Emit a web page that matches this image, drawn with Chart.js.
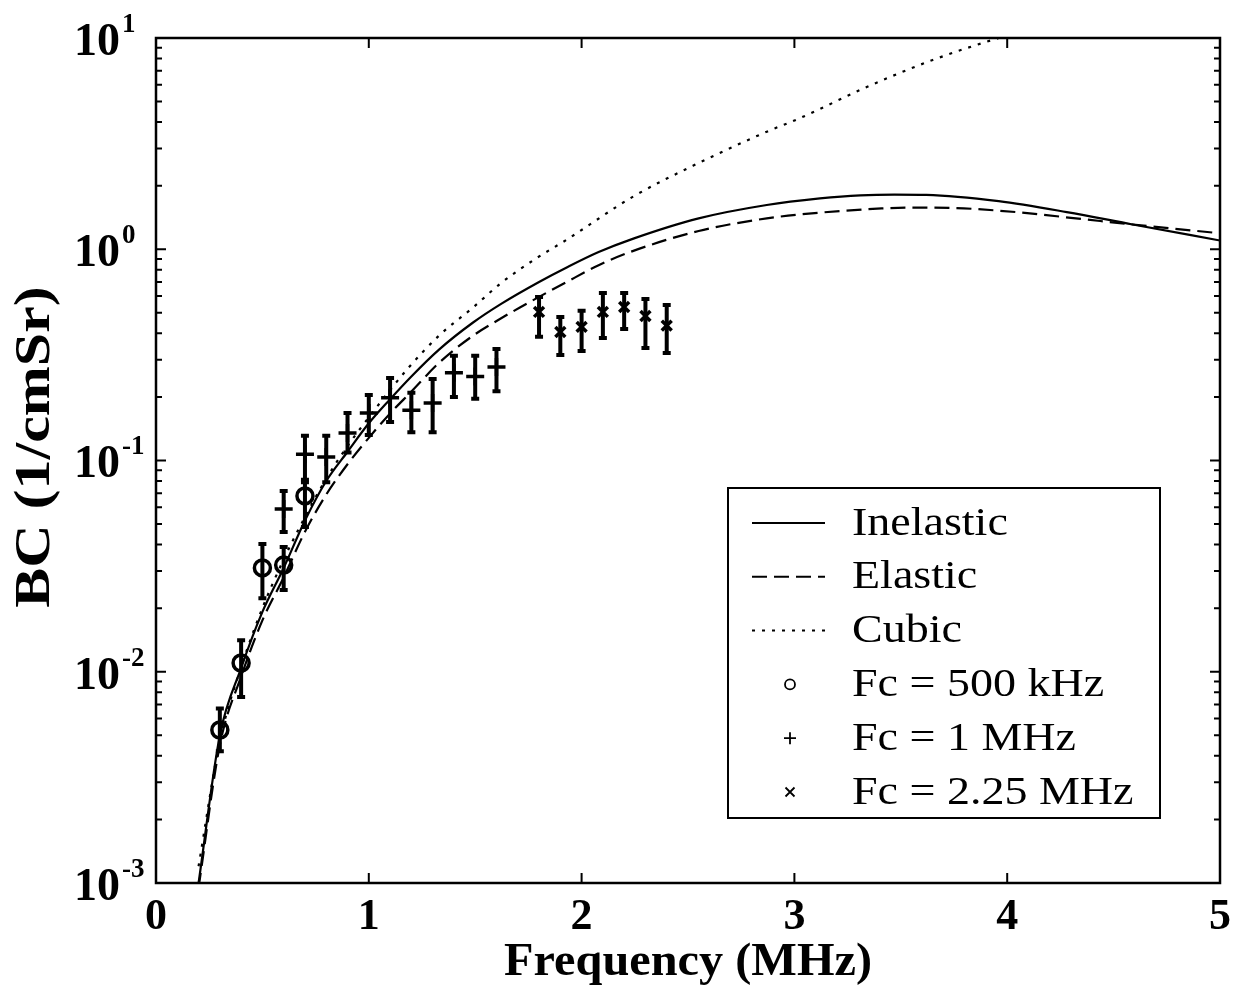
<!DOCTYPE html>
<html><head><meta charset="utf-8">
<script src="https://cdn.jsdelivr.net/npm/chart.js@4.4.1/dist/chart.umd.min.js"></script>
<style>html,body{margin:0;padding:0;background:#fff;}</style>
</head><body>
<canvas id="c" width="1252" height="994"></canvas>
<script>
// ---- data ----
const inelasticF  = [0.2,0.3,0.4,0.5,0.6,0.7,0.8,0.9,1.0,1.1,1.2,1.33,1.49,1.62,1.8,1.93,2.08,2.24,2.55,2.87,3.12,3.31,3.47,3.62,3.96,4.28,4.59,5.0];
const inelasticBC = [0.001,0.005,0.0104,0.0192,0.031,0.052,0.08,0.11,0.15,0.195,0.25,0.335,0.45,0.55,0.70,0.82,0.97,1.12,1.40,1.62,1.74,1.80,1.815,1.81,1.69,1.50,1.31,1.10];

const elasticF  = [0.2,0.3,0.4,0.5,0.6,0.7,0.8,0.9,1.0,1.1,1.2,1.33,1.49,1.62,1.71,1.93,2.08,2.24,2.55,2.87,3.12,3.41,3.57,3.73,4.04,4.35,4.59,5.0];
const elasticBC = [0.00095,0.0045,0.0095,0.0175,0.028,0.046,0.069,0.096,0.128,0.167,0.212,0.29,0.39,0.47,0.53,0.70,0.84,0.98,1.22,1.40,1.49,1.56,1.575,1.57,1.50,1.39,1.31,1.19];

const cubicF  = [0.2,0.3,0.4,0.5,0.6,0.7,0.8,0.9,1.0,1.18,1.33,1.49,1.62,1.79,1.93,2.24,2.55,2.87,3.02,3.34,3.65,3.96,4.05];
const cubicBC = [0.0012,0.0047,0.0105,0.02,0.034,0.054,0.082,0.117,0.16,0.27,0.39,0.53,0.69,0.91,1.11,1.77,2.56,3.6,4.15,5.86,7.87,10,10.6];

const f500  = [0.3,0.4,0.5,0.6,0.7];
const bc500 = [0.0053,0.011,0.031,0.032,0.068];
const lo500 = [0.0042,0.0076,0.0223,0.0244,0.0484];
const hi500 = [0.0067,0.0141,0.0403,0.039,0.081];

const f1M  = [0.6,0.7,0.8,0.9,1.0,1.1,1.2,1.3,1.4,1.5,1.6];
const bc1M = [0.059,0.107,0.104,0.135,0.168,0.198,0.173,0.187,0.26,0.25,0.277];
const lo1M = [0.0459,0.079,0.079,0.109,0.132,0.152,0.136,0.136,0.2,0.196,0.213];
const hi1M = [0.0718,0.131,0.131,0.168,0.204,0.246,0.209,0.243,0.313,0.313,0.337];

const f225  = [1.8,1.9,2.0,2.1,2.2,2.3,2.4];
const bc225 = [0.505,0.406,0.429,0.505,0.533,0.483,0.435];
const lo225 = [0.385,0.316,0.33,0.38,0.419,0.341,0.323];
const hi225 = [0.594,0.478,0.511,0.621,0.621,0.581,0.545];

const xTicks = [0,1,2,3,4,5];
const yDecades = [-3,-2,-1,0,1];
const legendLabels = ['Inelastic','Elastic','Cubic','Fc = 500 kHz','Fc = 1 MHz','Fc = 2.25 MHz'];
const xTitle = 'Frequency (MHz)';
const yTitle = 'BC (1/cmSr)';

// ---- helpers ----
const pts = (xs, ys) => xs.map((x,i)=>({x:x,y:ys[i]}));
const SERIF = '"Liberation Serif","Times New Roman",serif';

const errorSets = [
  {f:f500, lo:lo500, hi:hi500},
  {f:f1M, lo:lo1M, hi:hi1M},
  {f:f225, lo:lo225, hi:hi225}
];

const framePlugin = {
  id: 'frame',
  beforeDatasetsDraw(chart) {
    const {ctx, scales:{x, y}} = chart;
    ctx.save();
    ctx.strokeStyle = '#000';
    ctx.lineWidth = 4;
    errorSets.forEach(s => {
      s.f.forEach((f,i) => {
        const px = x.getPixelForValue(f);
        const yt = y.getPixelForValue(s.hi[i]);
        const yb = y.getPixelForValue(s.lo[i]);
        ctx.beginPath();
        ctx.moveTo(px, yt); ctx.lineTo(px, yb);
        ctx.moveTo(px-4, yt); ctx.lineTo(px+4, yt);
        ctx.moveTo(px-4, yb); ctx.lineTo(px+4, yb);
        ctx.stroke();
      });
    });
    ctx.restore();
  },
  afterDraw(chart) {
    const {ctx, chartArea:a, scales:{x, y}} = chart;
    ctx.save();
    ctx.strokeStyle = '#000';
    ctx.fillStyle = '#000';
    // box
    ctx.lineWidth = 2.5;
    ctx.strokeRect(a.left, a.top, a.right-a.left, a.bottom-a.top);
    // x ticks (inside, bottom and top)
    ctx.lineWidth = 2;
    xTicks.forEach(v => {
      const px = x.getPixelForValue(v);
      ctx.beginPath();
      ctx.moveTo(px, a.bottom); ctx.lineTo(px, a.bottom-10);
      ctx.moveTo(px, a.top); ctx.lineTo(px, a.top+10);
      ctx.stroke();
    });
    // y ticks: major + minor, left and right
    yDecades.forEach(d => {
      for (let m=1; m<=9; m++) {
        if (d===1 && m>1) break;
        const py = y.getPixelForValue(m*Math.pow(10,d));
        const len = m===1 ? 10 : 6;
        ctx.beginPath();
        ctx.moveTo(a.left, py); ctx.lineTo(a.left+len, py);
        ctx.moveTo(a.right, py); ctx.lineTo(a.right-len, py);
        ctx.stroke();
      }
    });
    // y tick labels 10^n
    yDecades.forEach(d => {
      const py = y.getPixelForValue(Math.pow(10,d));
      ctx.textAlign = 'left';
      ctx.textBaseline = 'middle';
      ctx.font = 'bold 46px ' + SERIF;
      ctx.fillText('10', 74, py+5);
      const w = ctx.measureText('10').width;
      ctx.font = 'bold 27px ' + SERIF;
      ctx.fillText(String(d), 74+w+2, py-13);
    });
    // axis titles
    ctx.save();
    ctx.translate((a.left+a.right)/2, 963);
    ctx.scale(1.05,1);
    ctx.font = 'bold 46px ' + SERIF;
    ctx.textAlign = 'center'; ctx.textBaseline = 'middle';
    ctx.fillText(xTitle, 0, 0);
    ctx.restore();
    ctx.save();
    ctx.translate(36, 447);
    ctx.rotate(-Math.PI/2);
    ctx.scale(1.2,1);
    ctx.font = 'bold 50px ' + SERIF;
    ctx.textAlign = 'center'; ctx.textBaseline = 'middle';
    ctx.fillText(yTitle, 0, 0);
    ctx.restore();
    // legend
    const L = 728, T = 488, W = 432, H = 330;
    ctx.fillStyle = '#fff';
    ctx.fillRect(L, T, W, H);
    ctx.fillStyle = '#000';
    ctx.lineWidth = 2;
    ctx.strokeRect(L, T, W, H);
    const step = 53.8, y0 = 523;
    const ds = chart.data.datasets;
    legendLabels.forEach((lab, i) => {
      const ry = y0 + i*step;
      const d = ds[i];
      if (i < 3) {
        ctx.save();
        ctx.lineWidth = 2;
        ctx.setLineDash(d.borderDash || []);
        ctx.beginPath(); ctx.moveTo(752, ry); ctx.lineTo(825, ry); ctx.stroke();
        ctx.restore();
      } else {
        ctx.save();
        ctx.lineWidth = 1.8;
        const cx = 790;
        ctx.beginPath();
        if (i === 3) { ctx.arc(cx, ry, 5, 0, Math.PI*2); }
        else if (i === 4) { ctx.moveTo(cx-6, ry); ctx.lineTo(cx+6, ry); ctx.moveTo(cx, ry-6); ctx.lineTo(cx, ry+6); }
        else { ctx.moveTo(cx-4.5, ry-4.5); ctx.lineTo(cx+4.5, ry+4.5); ctx.moveTo(cx-4.5, ry+4.5); ctx.lineTo(cx+4.5, ry-4.5); }
        ctx.stroke();
        ctx.restore();
      }
      ctx.save();
      ctx.translate(852, ry+1);
      ctx.scale(1.15, 1);
      ctx.font = '40px ' + SERIF;
      ctx.textAlign = 'left'; ctx.textBaseline = 'middle';
      ctx.fillText(lab, 0, 0);
      ctx.restore();
    });
    ctx.restore();
  }
};

const lineDs = (label, xs, ys, dash) => ({
  label, data: pts(xs, ys), showLine: true, pointRadius: 0,
  borderColor: '#000', backgroundColor: '#000', borderWidth: 2.2,
  borderDash: dash, cubicInterpolationMode: 'monotone'
});
const markDs = (label, xs, ys, style, r) => ({
  label, data: pts(xs, ys), showLine: false, pointStyle: style,
  pointRadius: r, pointBorderWidth: 3.5, borderColor: '#000',
  backgroundColor: 'rgba(0,0,0,0)'
});

new Chart(document.getElementById('c'), {
  type: 'scatter',
  data: { datasets: [
    lineDs(legendLabels[0], inelasticF, inelasticBC, []),
    lineDs(legendLabels[1], elasticF, elasticBC, [15,7]),
    lineDs(legendLabels[2], cubicF, cubicBC, [3,7]),
    markDs(legendLabels[3], f500, bc500, 'circle', 8),
    markDs(legendLabels[4], f1M, bc1M, 'cross', 9),
    markDs(legendLabels[5], f225, bc225, 'crossRot', 7)
  ]},
  options: {
    responsive: false, animation: false,
    layout: { padding: { top: 38, right: 32, left: 0, bottom: 0 } },
    plugins: { legend: { display: false }, tooltip: { enabled: false } },
    scales: {
      x: {
        type: 'linear', min: 0, max: 5,
        ticks: { stepSize: 1, color: '#000', padding: 8,
                 font: { family: SERIF, size: 44, weight: 'bold' } },
        grid: { display: false, drawTicks: false },
        border: { display: false },
        afterFit: s => { s.height = 111; }
      },
      y: {
        type: 'logarithmic', min: 0.001, max: 10,
        ticks: { display: false },
        grid: { display: false, drawTicks: false },
        border: { display: false },
        afterFit: s => { s.width = 156; }
      }
    }
  },
  plugins: [framePlugin]
});
</script>
</body></html>
